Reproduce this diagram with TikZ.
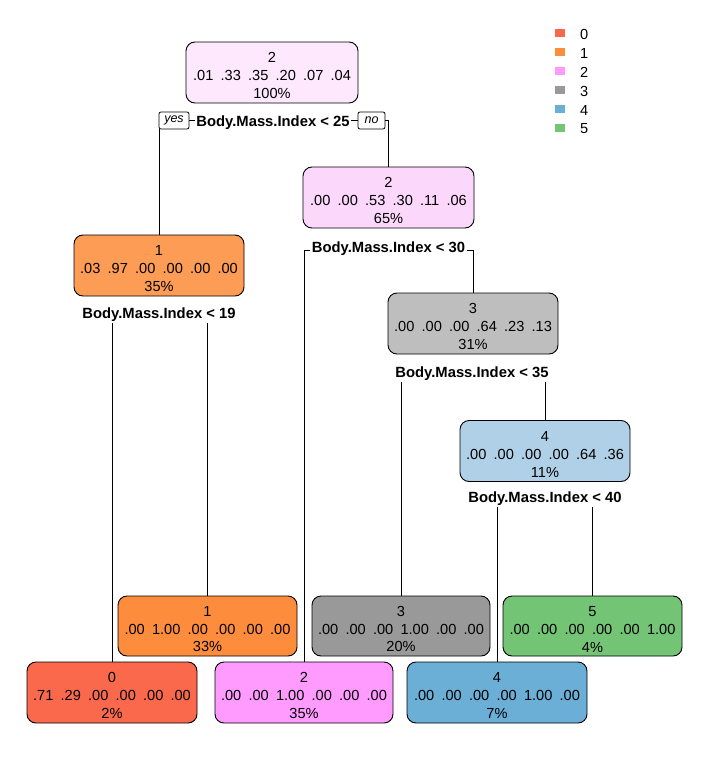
\documentclass[tikz,border=0pt]{standalone}
\usepackage{fontspec}
\setmainfont{Liberation Sans}
\newcommand{\gapA}{\hspace{7.2pt}}
\newcommand{\topA}{\rule{0pt}{16.5pt}}
\definecolor{cz}{RGB}{250,105,76}
\definecolor{co}{RGB}{253,141,60}
\definecolor{cp}{RGB}{255,155,255}
\definecolor{cg}{RGB}{153,153,153}
\definecolor{cb}{RGB}{107,174,214}
\definecolor{cgr}{RGB}{116,196,118}
\definecolor{froot}{RGB}{253,232,253}
\definecolor{fntwo}{RGB}{252,215,252}
\definecolor{fnone}{RGB}{253,157,85}
\definecolor{fnthree}{RGB}{190,190,190}
\definecolor{fnfour}{RGB}{176,208,231}
\begin{document}
\begin{tikzpicture}[x=1pt,y=-1pt,
  treebox/.style={draw=black, line width=0.9pt, rounded corners=9pt, align=center,
    inner sep=0pt, minimum height=61pt, font=\fontsize{14.6}{17.8}\selectfont},
  splitlab/.style={inner sep=1.5pt, font=\bfseries\fontsize{14.8}{17}\selectfont},
  yesno/.style={draw=black, line width=0.8pt, rounded corners=2pt, inner sep=0pt,
    minimum height=17pt, font=\itshape\fontsize{12.5}{14}\selectfont},
  conn/.style={draw=black, line width=0.9pt},
  legsq/.style={inner sep=0pt, minimum width=10pt, minimum height=8pt},
  legtxt/.style={anchor=west, inner sep=0pt, font=\fontsize{14.6}{17}\selectfont}]
\useasboundingbox[fill=white] (0,0) rectangle (708,765);

% inner nodes
\node[treebox, fill=froot, minimum width=172pt] (root) at (272,72.5)
  {\topA 2\\.01\gapA.33\gapA.35\gapA.20\gapA.07\gapA.04\\100\%};
\node[treebox, fill=fntwo, minimum width=171pt] (n2) at (388.5,197.5)
  {\topA 2\\.00\gapA.00\gapA.53\gapA.30\gapA.11\gapA.06\\65\%};
\node[treebox, fill=fnone, minimum width=170pt] (n1) at (159,265.5)
  {\topA 1\\.03\gapA.97\gapA.00\gapA.00\gapA.00\gapA.00\\35\%};
\node[treebox, fill=fnthree, minimum width=170pt] (n3) at (473,323.5)
  {\topA 3\\.00\gapA.00\gapA.00\gapA.64\gapA.23\gapA.13\\31\%};
\node[treebox, fill=fnfour, minimum width=170pt] (n4) at (545,451)
  {\topA 4\\.00\gapA.00\gapA.00\gapA.00\gapA.64\gapA.36\\11\%};

% leaves
\node[treebox, fill=co, minimum width=179pt, minimum height=60pt] (leaf1) at (207.5,626)
  {\topA 1\\.00\gapA1.00\gapA.00\gapA.00\gapA.00\gapA.00\\33\%};
\node[treebox, fill=cg, minimum width=178pt, minimum height=60pt] (leaf3) at (401,626)
  {\topA 3\\.00\gapA.00\gapA.00\gapA1.00\gapA.00\gapA.00\\20\%};
\node[treebox, fill=cgr, minimum width=179pt, minimum height=60pt] (leaf5) at (592.5,626)
  {\topA 5\\.00\gapA.00\gapA.00\gapA.00\gapA.00\gapA1.00\\4\%};
\node[treebox, fill=cz, minimum width=170pt] (leaf0) at (112,692.5)
  {\topA 0\\.71\gapA.29\gapA.00\gapA.00\gapA.00\gapA.00\\2\%};
\node[treebox, fill=cp, minimum width=178pt] (leaf2) at (304,692.5)
  {\topA 2\\.00\gapA.00\gapA1.00\gapA.00\gapA.00\gapA.00\\35\%};
\node[treebox, fill=cb, minimum width=180pt] (leaf4) at (497,692.5)
  {\topA 4\\.00\gapA.00\gapA.00\gapA.00\gapA1.00\gapA.00\\7\%};

% split labels
\node[splitlab] (s0) at (273,122.5) {Body.Mass.Index < 25};
\node[yesno, minimum width=30pt] (yes) at (174,120.5) {yes};
\node[yesno, minimum width=27pt] (no) at (371.5,120.5) {no};
\node[splitlab] (s2) at (388.5,248.5) {Body.Mass.Index < 30};
\node[splitlab] (s1) at (159,314.5) {Body.Mass.Index < 19};
\node[splitlab] (s3) at (472,373.5) {Body.Mass.Index < 35};
\node[splitlab] (s4) at (545,498.5) {Body.Mass.Index < 40};

% connectors: root
\draw[conn] (yes.east) -- (yes.east -| s0.west);
\draw[conn] (no.west -| s0.east) -- (no.west);
\draw[conn] (no.east) -- (no.east -| n2.north) -- (n2.north);
\draw[conn] (yes.south -| n1.north) -- (n1.north);
% n2
\draw[conn] ([yshift=-1.5pt]s2.west) -- ([yshift=-1.5pt]s2.west -| leaf2.north) -- (leaf2.north);
\draw[conn] ([yshift=-1.5pt]s2.east) -- ([yshift=-1.5pt]s2.east -| n3.north) -- (n3.north);
% n1
\draw[conn] (s1.south -| leaf0.north) -- (leaf0.north);
\draw[conn] (s1.south -| leaf1.north) -- (leaf1.north);
% n3
\draw[conn] (s3.south -| leaf3.north) -- (leaf3.north);
\draw[conn] (s3.south -| n4.north) -- (n4.north);
% n4
\draw[conn] (s4.south -| leaf4.north) -- (leaf4.north);
\draw[conn] (s4.south -| leaf5.north) -- (leaf5.north);

% legend
\node[legsq, fill=cz] (q0) at (560,33) {};
\node[legsq, fill=co] (q1) at (560,52) {};
\node[legsq, fill=cp] (q2) at (560,71) {};
\node[legsq, fill=cg] (q3) at (560,90) {};
\node[legsq, fill=cb] (q4) at (560,109) {};
\node[legsq, fill=cgr] (q5) at (560,128) {};
\node[legtxt] (t0) at (580,34) {0};
\node[legtxt] (t1) at (580,53) {1};
\node[legtxt] (t2) at (580,72) {2};
\node[legtxt] (t3) at (580,91) {3};
\node[legtxt] (t4) at (580,110) {4};
\node[legtxt] (t5) at (580,129) {5};
\end{tikzpicture}
\end{document}
